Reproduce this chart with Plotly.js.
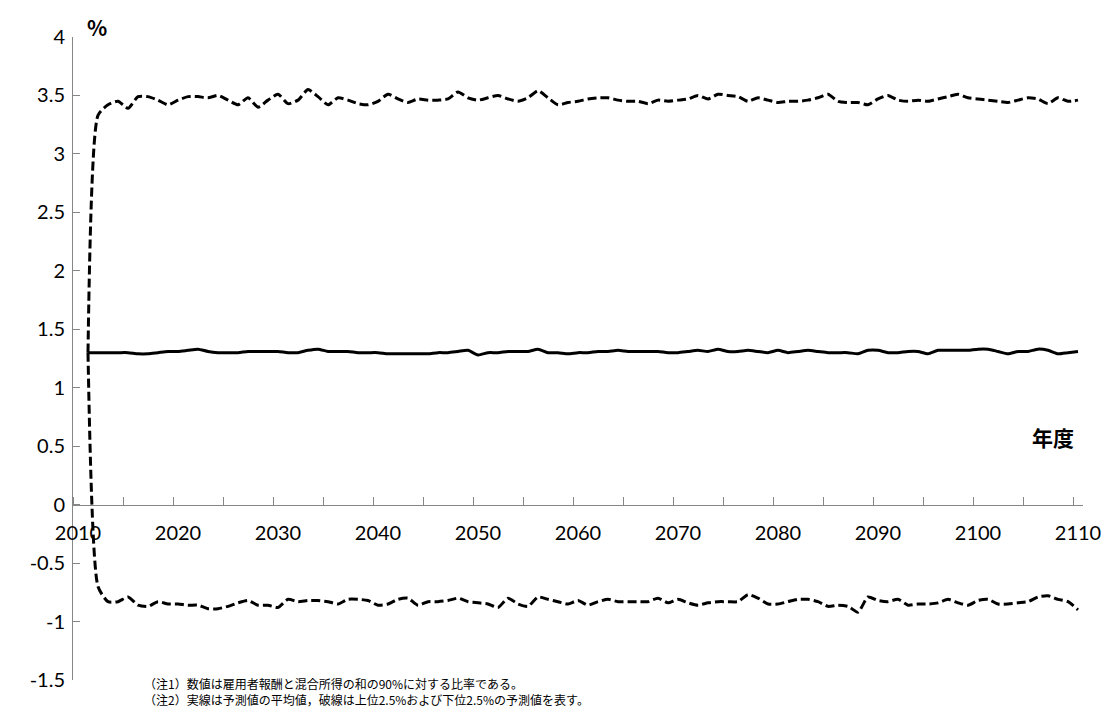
<!DOCTYPE html>
<html>
<head>
<meta charset="utf-8">
<script src="https://cdn.plot.ly/plotly-3.0.1.min.js"></script>
<style>
  html, body { margin: 0; padding: 0; background: #fff; }
  #chart { width: 1108px; height: 709px; }
</style>
</head>
<body>
<div id="chart"></div>
<script>
// Fiscal years of the projection
const years = [
  2011, 2012, 2013, 2014, 2015, 2016, 2017, 2018, 2019, 2020,
  2021, 2022, 2023, 2024, 2025, 2026, 2027, 2028, 2029, 2030,
  2031, 2032, 2033, 2034, 2035, 2036, 2037, 2038, 2039, 2040,
  2041, 2042, 2043, 2044, 2045, 2046, 2047, 2048, 2049, 2050,
  2051, 2052, 2053, 2054, 2055, 2056, 2057, 2058, 2059, 2060,
  2061, 2062, 2063, 2064, 2065, 2066, 2067, 2068, 2069, 2070,
  2071, 2072, 2073, 2074, 2075, 2076, 2077, 2078, 2079, 2080,
  2081, 2082, 2083, 2084, 2085, 2086, 2087, 2088, 2089, 2090,
  2091, 2092, 2093, 2094, 2095, 2096, 2097, 2098, 2099, 2100,
  2101, 2102, 2103, 2104, 2105, 2106, 2107, 2108, 2109, 2110
];

// Mean of the projected values (%)
const meanValues = [
  1.30, 1.30, 1.30, 1.30, 1.30, 1.29, 1.29, 1.30, 1.31, 1.31,
  1.32, 1.33, 1.31, 1.30, 1.30, 1.30, 1.31, 1.31, 1.31, 1.31,
  1.30, 1.30, 1.32, 1.33, 1.31, 1.31, 1.31, 1.30, 1.30, 1.30,
  1.29, 1.29, 1.29, 1.29, 1.29, 1.30, 1.30, 1.31, 1.32, 1.28,
  1.30, 1.30, 1.31, 1.31, 1.31, 1.33, 1.30, 1.30, 1.29, 1.30,
  1.30, 1.31, 1.31, 1.32, 1.31, 1.31, 1.31, 1.31, 1.30, 1.30,
  1.31, 1.32, 1.31, 1.33, 1.31, 1.31, 1.32, 1.31, 1.30, 1.32,
  1.30, 1.31, 1.32, 1.31, 1.30, 1.30, 1.30, 1.29, 1.32, 1.32,
  1.30, 1.30, 1.31, 1.31, 1.29, 1.32, 1.32, 1.32, 1.32, 1.33,
  1.33, 1.31, 1.29, 1.31, 1.31, 1.33, 1.32, 1.29, 1.30, 1.31
];

// Upper 2.5% projected value (%)
const upperValues = [
  1.30, 3.33, 3.42, 3.45, 3.39, 3.49, 3.49, 3.46, 3.42, 3.46,
  3.49, 3.49, 3.48, 3.50, 3.46, 3.42, 3.48, 3.40, 3.46, 3.51,
  3.43, 3.46, 3.55, 3.49, 3.42, 3.48, 3.46, 3.43, 3.42, 3.45,
  3.51, 3.47, 3.44, 3.47, 3.46, 3.46, 3.47, 3.53, 3.48, 3.46,
  3.48, 3.50, 3.47, 3.45, 3.48, 3.54, 3.48, 3.42, 3.44, 3.45,
  3.47, 3.48, 3.48, 3.46, 3.45, 3.45, 3.43, 3.46, 3.45, 3.46,
  3.47, 3.50, 3.47, 3.51, 3.50, 3.49, 3.45, 3.48, 3.46, 3.44,
  3.45, 3.45, 3.46, 3.48, 3.51, 3.45, 3.44, 3.44, 3.42, 3.47,
  3.50, 3.46, 3.45, 3.46, 3.45, 3.47, 3.49, 3.51, 3.48, 3.47,
  3.46, 3.45, 3.44, 3.46, 3.48, 3.47, 3.43, 3.48, 3.45, 3.46
];

// Lower 2.5% projected value (%)
const lowerValues = [
  1.30, -0.70, -0.83, -0.83, -0.79, -0.86, -0.87, -0.83, -0.85, -0.85,
  -0.86, -0.86, -0.89, -0.89, -0.87, -0.84, -0.82, -0.86, -0.86, -0.88,
  -0.81, -0.83, -0.82, -0.82, -0.83, -0.85, -0.81, -0.81, -0.82, -0.86,
  -0.85, -0.81, -0.80, -0.86, -0.83, -0.83, -0.82, -0.80, -0.83, -0.84,
  -0.85, -0.88, -0.80, -0.85, -0.87, -0.79, -0.81, -0.83, -0.85, -0.82,
  -0.86, -0.83, -0.81, -0.83, -0.83, -0.83, -0.83, -0.80, -0.84, -0.81,
  -0.84, -0.86, -0.84, -0.83, -0.83, -0.83, -0.77, -0.80, -0.85, -0.85,
  -0.83, -0.81, -0.81, -0.83, -0.87, -0.86, -0.87, -0.92, -0.79, -0.82,
  -0.83, -0.81, -0.86, -0.85, -0.85, -0.84, -0.81, -0.84, -0.86, -0.82,
  -0.81, -0.85, -0.85, -0.84, -0.83, -0.79, -0.78, -0.81, -0.83, -0.90
];

// Axis labels
const xTickYears = [2010, 2020, 2030, 2040, 2050, 2060, 2070, 2080, 2090, 2100, 2110];
const xTickLabels = ['2010', '2020', '2030', '2040', '2050', '2060', '2070', '2080', '2090', '2100', '2110'];
const yTickValues = [4, 3.5, 3, 2.5, 2, 1.5, 1, 0.5, 0, -0.5, -1, -1.5];
const yTickLabels = ['4', '3.5', '3', '2.5', '2', '1.5', '1', '0.5', '0', '-0.5', '-1', '-1.5'];

const yAxisTitle = '%';
const xAxisTitle = '年度';
const notes = [
  '（注1）数値は雇用者報酬と混合所得の和の90%に対する比率である。',
  '（注2）実線は予測値の平均値，破線は上位2.5%および下位2.5%の予測値を表す。'
];

const axisGray = '#868686';
const labelFont = { family: 'Lato, "Open Sans", sans-serif', size: 20, color: '#000' };
const noteFont = { family: '"Noto Sans CJK JP", sans-serif', size: 12, color: '#000' };
const yMin = -1.5, yMax = 4;

const dashed = { color: '#000', width: 3, dash: '9px,4px', shape: 'spline', smoothing: 0.6 };

const traces = [
  { x: years, y: upperValues, type: 'scatter', mode: 'lines', line: dashed, hoverinfo: 'skip' },
  { x: years, y: lowerValues, type: 'scatter', mode: 'lines', line: dashed, hoverinfo: 'skip' },
  { x: years, y: meanValues, type: 'scatter', mode: 'lines',
    line: { color: '#000', width: 3, shape: 'spline', smoothing: 0.6 }, hoverinfo: 'skip' }
];

// The category axis sits on y = 0, so it is positioned at that fraction of the plot height
const zeroPos = (0 - yMin) / (yMax - yMin);

const layout = {
  width: 1108,
  height: 709,
  margin: { l: 73, r: 25, t: 37, b: 29 },
  paper_bgcolor: '#fff',
  plot_bgcolor: '#fff',
  showlegend: false,
  font: labelFont,
  xaxis: {
    range: [2009.5, 2110.5],
    anchor: 'free',
    position: zeroPos,
    showgrid: false,
    zeroline: false,
    showline: true,
    linecolor: axisGray,
    linewidth: 1,
    tickmode: 'array',
    tickvals: xTickYears,
    ticktext: xTickLabels,
    ticks: '',
    ticklabelstandoff: 10,
    tickfont: labelFont,
    minor: { ticks: 'inside', tick0: 2009.5, dtick: 5, ticklen: 8, tickcolor: axisGray, tickwidth: 1, showgrid: false }
  },
  yaxis: {
    range: [yMin, yMax],
    showgrid: false,
    zeroline: false,
    showline: true,
    linecolor: axisGray,
    linewidth: 1,
    tickmode: 'array',
    tickvals: yTickValues,
    ticktext: yTickLabels,
    ticks: 'inside',
    ticklen: 7,
    tickcolor: axisGray,
    tickwidth: 1,
    ticklabelstandoff: 3,
    tickfont: labelFont
  },
  annotations: [
    { text: '<b>' + yAxisTitle + '</b>', xref: 'paper', yref: 'paper', x: 0.024, y: 1.016,
      xanchor: 'center', yanchor: 'middle', showarrow: false,
      font: { family: '"Noto Sans CJK JP", sans-serif', size: 21, color: '#000' } },
    { text: '<b>' + xAxisTitle + '</b>', xref: 'paper', yref: 'paper', x: 0.97, y: 0.378,
      xanchor: 'center', yanchor: 'middle', showarrow: false,
      font: { family: '"Noto Sans CJK JP", sans-serif', size: 21, color: '#000' } },
    { text: notes[0], xref: 'paper', yref: 'paper', x: 0.069, y: -0.0205,
      xanchor: 'left', yanchor: 'bottom', showarrow: false, borderpad: 0, font: noteFont },
    { text: notes[1], xref: 'paper', yref: 'paper', x: 0.069, y: -0.0451,
      xanchor: 'left', yanchor: 'bottom', showarrow: false, borderpad: 0, font: noteFont }
  ]
};

Plotly.newPlot('chart', traces, layout, { displayModeBar: false, staticPlot: true });
</script>
</body>
</html>
